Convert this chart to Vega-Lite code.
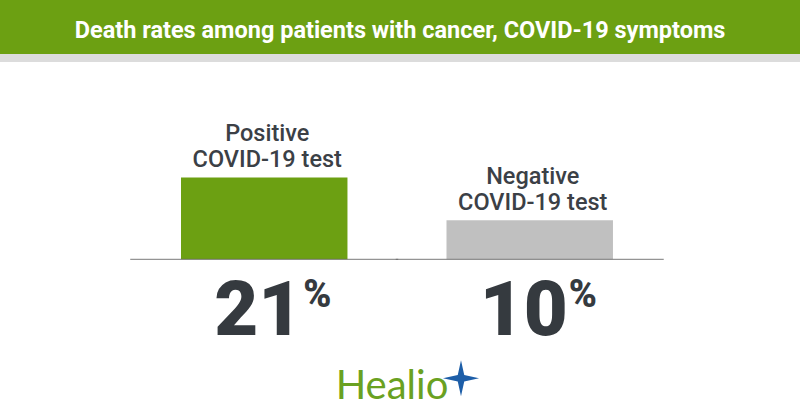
{
  "$schema": "https://vega.github.io/schema/vega-lite/v6.json",
  "width": 800,
  "height": 366,
  "autosize": "none",
  "padding": {"top": 54, "left": 0, "right": 0, "bottom": 0},
  "background": "#6ca012",
  "title": {
    "text": "Death rates among patients with cancer, COVID-19 symptoms",
    "color": "#ffffff",
    "font": "Roboto",
    "fontSize": 23.5,
    "fontWeight": "bold",
    "anchor": "middle",
    "offset": 11.4
  },
  "config": {
    "view": {"fill": "#ffffff", "stroke": null},
    "axis": {"disable": true},
    "legend": {"disable": true}
  },
  "data": {
    "values": [
      {"test": "Positive", "label": ["Positive", "COVID-19 test"], "rate": 21},
      {"test": "Negative", "label": ["Negative", "COVID-19 test"], "rate": 10}
    ]
  },
  "layer": [
    {
      "mark": {"type": "rule", "color": "#dcdcdc", "strokeWidth": 8, "yOffset": 4},
      "encoding": {"y": {"datum": 52.64, "type": "quantitative"}}
    },
    {
      "mark": {"type": "bar"},
      "encoding": {
        "x": {"field": "test", "type": "nominal", "sort": null,
              "scale": {"paddingInner": 0.373, "paddingOuter": 0.6931, "align": 0.4918}},
        "y": {"field": "rate", "type": "quantitative",
              "scale": {"domain": [-41.2, 52.64], "nice": false, "zero": false}},
        "color": {"field": "test", "type": "nominal",
                  "scale": {"domain": ["Positive", "Negative"], "range": ["#6ca012", "#c0c0c0"]}}
      }
    },
    {
      "mark": {"type": "tick", "orient": "horizontal", "size": 268, "thickness": 1.2, "color": "#666666"},
      "encoding": {
        "x": {"field": "test", "type": "nominal", "sort": null},
        "y": {"datum": 0, "type": "quantitative"}
      }
    },
    {
      "mark": {"type": "text", "align": "center", "baseline": "alphabetic", "dy": -36, "dx": 3,
               "font": "Roboto", "fontSize": 23.5, "fontWeight": 500, "lineHeight": 26, "color": "#3b4046"},
      "encoding": {
        "x": {"field": "test", "type": "nominal", "sort": null},
        "y": {"field": "rate", "type": "quantitative"},
        "text": {"field": "label"}
      }
    },
    {
      "mark": {"type": "text", "align": "center", "baseline": "alphabetic", "dy": 75.7, "dx": -6,
               "font": "Roboto", "fontSize": 76, "fontWeight": 900, "color": "#353a3f"},
      "encoding": {
        "x": {"field": "test", "type": "nominal", "sort": null},
        "y": {"datum": 0, "type": "quantitative"},
        "text": {"field": "rate", "type": "quantitative", "format": "d"}
      }
    },
    {
      "mark": {"type": "text", "align": "left", "baseline": "alphabetic", "dy": 48, "dx": 39,
               "font": "Roboto", "fontSize": 38, "fontWeight": 900, "color": "#353a3f"},
      "encoding": {
        "x": {"field": "test", "type": "nominal", "sort": null},
        "y": {"datum": 0, "type": "quantitative"},
        "text": {"value": "%"}
      }
    },
    {
      "data": {"values": [{"brand": "Healio"}]},
      "mark": {"type": "text", "align": "center", "baseline": "alphabetic", "dy": 140, "dx": -8,
               "font": "Lato", "fontSize": 40, "fontWeight": 400, "color": "#6aa121"},
      "encoding": {
        "y": {"datum": 0, "type": "quantitative"},
        "text": {"field": "brand"}
      }
    },
    {
      "data": {"values": [{"brand": "Healio"}]},
      "mark": {"type": "point", "shape": "M0,-1L0.18,-0.18L1,0L0.18,0.18L0,1L-0.18,0.18L-1,0L-0.18,-0.18Z", "filled": true, "size": 1300, "opacity": 1,
               "color": "#1d5ea8", "xOffset": 61, "yOffset": 119},
      "encoding": {
        "y": {"datum": 0, "type": "quantitative"}
      }
    }
  ]
}
